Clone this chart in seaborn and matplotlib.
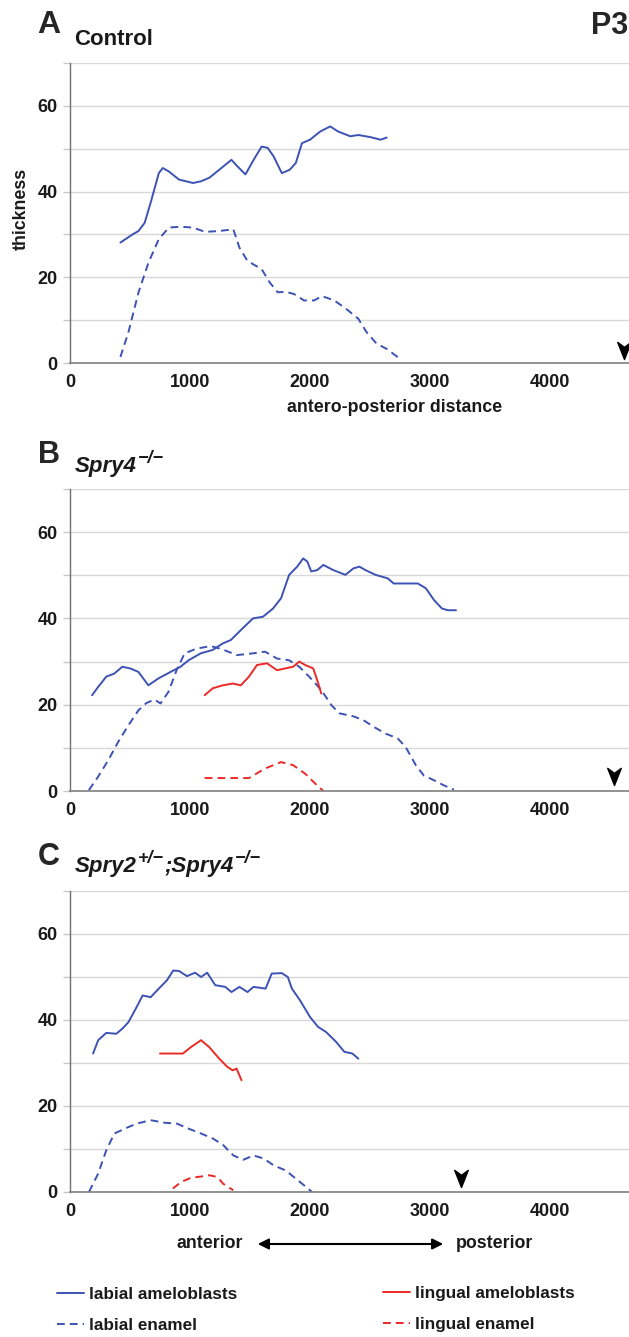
import matplotlib
matplotlib.use('Agg')
import matplotlib.pyplot as plt
from matplotlib.path import Path
from matplotlib.lines import Line2D
from matplotlib.patches import FancyArrowPatch
import pandas as pd
import seaborn as sns

# ---- values: antero-posterior distance vs thickness ----
# panel A, control
a_lab_amel_x = [420, 521, 571, 622, 672, 740, 773, 823, 908, 1025, 1092, 1160, 1244, 1345, 1395,
                1462, 1530, 1597, 1647, 1697, 1765, 1832, 1882, 1933, 2000, 2084, 2168, 2235,
                2336, 2403, 2504, 2588, 2639]
a_lab_amel_y = [28.1, 30.0, 30.8, 32.7, 37.4, 44.3, 45.5, 44.7, 42.8, 42.0, 42.4, 43.2, 45.1, 47.4,
                45.9, 44.0, 47.4, 50.5, 50.2, 48.2, 44.3, 45.1, 46.7, 51.3, 52.1, 54.0, 55.2, 54.0,
                52.9, 53.2, 52.7, 52.1, 52.6]
a_lab_enam_x = [420, 487, 571, 655, 740, 824, 924, 1025, 1126, 1244, 1361, 1412, 1479, 1597, 1664,
                1731, 1798, 1866, 1950, 2034, 2101, 2202, 2303, 2403, 2471, 2555, 2639, 2739]
a_lab_enam_y = [1.4, 7.2, 16.5, 23.5, 28.9, 31.6, 31.8, 31.6, 30.6, 30.8, 31.2, 26.9, 23.8, 21.9,
                18.8, 16.5, 16.6, 16.1, 14.6, 14.6, 15.6, 14.6, 12.6, 10.3, 7.2, 4.5, 3.3, 1.2]

# panel B, Spry4-/-
b_lab_amel_x = [184, 234, 302, 368, 436, 503, 570, 653, 737, 838, 921, 988, 1089, 1189, 1273, 1340,
                1424, 1524, 1608, 1692, 1759, 1826, 1893, 1943, 1977, 2010, 2060, 2111, 2194, 2295,
                2362, 2412, 2462, 2546, 2647, 2697, 2898, 2965, 3032, 3099, 3149, 3216]
b_lab_amel_y = [22.2, 24.1, 26.5, 27.2, 28.8, 28.4, 27.6, 24.5, 26.1, 27.6, 28.8, 30.3, 31.9, 32.7,
                34.2, 35.0, 37.3, 40.0, 40.4, 42.3, 44.7, 50.1, 52.0, 53.9, 53.2, 50.9, 51.2, 52.4,
                51.2, 50.1, 51.6, 52.0, 51.2, 50.1, 49.3, 48.1, 48.1, 47.0, 44.3, 42.3, 41.9, 41.9]
b_lab_enam_x = [157, 234, 318, 402, 486, 570, 637, 704, 754, 821, 888, 955, 1055, 1173, 1273, 1390,
                1524, 1625, 1725, 1826, 1910, 1993, 2094, 2178, 2245, 2362, 2446, 2529, 2630, 2730,
                2797, 2881, 2948, 3032, 3116, 3199]
b_lab_enam_y = [0.2, 3.3, 7.1, 11.4, 15.2, 18.7, 20.4, 21.2, 20.3, 23.0, 28.0, 31.9, 33.0, 33.6,
                32.8, 31.5, 31.9, 32.3, 30.7, 30.3, 28.8, 26.5, 23.4, 19.9, 18.0, 17.3, 16.4, 14.9,
                13.3, 12.2, 10.2, 6.0, 3.6, 2.5, 1.3, 0.3]
b_lin_amel_x = [1122, 1189, 1273, 1357, 1424, 1491, 1558, 1642, 1725, 1792, 1859, 1910, 1960, 2027,
                2060, 2094]
b_lin_amel_y = [22.2, 23.8, 24.5, 24.9, 24.5, 26.5, 29.2, 29.6, 28.0, 28.4, 28.8, 30.0, 29.2, 28.4,
                25.7, 22.6]
b_lin_enam_x = [1122, 1491, 1625, 1759, 1859, 1960, 2044, 2111]
b_lin_enam_y = [3.0, 3.0, 5.2, 6.7, 6.0, 4.0, 1.7, 0.0]

# panel C, Spry2+/-;Spry4-/-
c_lab_amel_x = [192, 235, 302, 386, 437, 487, 555, 605, 672, 740, 807, 860, 908, 975, 1042, 1092,
                1143, 1210, 1294, 1345, 1412, 1479, 1529, 1630, 1681, 1765, 1815, 1849, 1916, 2000,
                2067, 2134, 2218, 2286, 2353, 2403]
c_lab_amel_y = [32.2, 35.3, 37.0, 36.8, 38.0, 39.5, 43.0, 45.7, 45.3, 47.3, 49.2, 51.5, 51.4, 50.2,
                51.0, 50.0, 51.0, 48.1, 47.7, 46.5, 47.7, 46.5, 47.7, 47.3, 50.8, 50.9, 50.0, 47.3,
                44.6, 40.7, 38.4, 37.2, 34.9, 32.6, 32.2, 31.0]
c_lab_enam_x = [158, 235, 302, 370, 454, 555, 672, 790, 891, 991, 1092, 1193, 1277, 1361, 1445,
                1529, 1613, 1697, 1798, 1882, 1966, 2017]
c_lab_enam_y = [0.0, 4.3, 9.7, 13.6, 14.7, 15.9, 16.7, 16.1, 15.9, 14.7, 13.6, 12.4, 10.9, 8.5,
                7.5, 8.5, 7.8, 6.2, 5.0, 3.1, 1.2, 0.0]
c_lin_amel_x = [750, 941, 1008, 1092, 1160, 1244, 1311, 1355, 1388, 1429]
c_lin_amel_y = [32.2, 32.2, 33.7, 35.3, 33.7, 31.0, 29.1, 28.3, 28.7, 26.0]
c_lin_enam_x = [857, 924, 1008, 1092, 1160, 1227, 1277, 1361]
c_lin_enam_y = [0.8, 2.3, 3.3, 3.6, 3.9, 3.5, 1.9, 0.4]

# arrowhead markers (x, y) per panel
arrow_x = [4615, 4530, 3255]
arrow_y = [3.0, 3.4, 3.2]

y_ticks = [0, 20, 40, 60]
x_ticks = [0, 1000, 2000, 3000, 4000]

series_names = ['labial ameloblasts', 'labial enamel', 'lingual ameloblasts', 'lingual enamel']
BLUE = '#3d52b4'
RED = '#ea2a26'
palette = dict(zip(series_names, [BLUE, BLUE, RED, RED]))
dashes = dict(zip(series_names, ['', (4, 2.6), '', (4, 2.6)]))


def to_long(parts):
    frames = []
    for name, xs, ys in parts:
        frames.append(pd.DataFrame({'distance': xs, 'thickness': ys, 'series': name}))
    return pd.concat(frames, ignore_index=True)


sns.set_theme(style='white')
plt.rcParams['font.family'] = ['Liberation Sans', 'DejaVu Sans']

W, H = 629, 1337
fig = plt.figure(figsize=(W / 100, H / 100), dpi=100)
fig.patch.set_facecolor('white')
renderer = fig.canvas.get_renderer()
TXT = '#1a1a1a'


def fx(px):
    return px / W


def fy(py):
    return 1 - py / H


def rich_label(x_px, base_px, pieces):
    # pieces: (text, fontsize, raise_px); laid out left to right
    x = x_px
    for txt, size, rise in pieces:
        t = fig.text(fx(x), fy(base_px - rise), txt, fontsize=size, style='italic',
                     fontweight='bold', va='baseline', color=TXT)
        x += t.get_window_extent(renderer).width + 1


# arrowhead marker shape (pointing down)
arrow_marker = Path([(0, -1), (-0.75, 0.9), (0, 0.35), (0.75, 0.9), (0, -1)],
                    [Path.MOVETO, Path.LINETO, Path.LINETO, Path.LINETO, Path.CLOSEPOLY])

panels = [
    (363, 300, to_long([(series_names[0], a_lab_amel_x, a_lab_amel_y),
                        (series_names[1], a_lab_enam_x, a_lab_enam_y)])),
    (791, 302, to_long([(series_names[0], b_lab_amel_x, b_lab_amel_y),
                        (series_names[1], b_lab_enam_x, b_lab_enam_y),
                        (series_names[2], b_lin_amel_x, b_lin_amel_y),
                        (series_names[3], b_lin_enam_x, b_lin_enam_y)])),
    (1192, 301, to_long([(series_names[0], c_lab_amel_x, c_lab_amel_y),
                         (series_names[1], c_lab_enam_x, c_lab_enam_y),
                         (series_names[2], c_lin_amel_x, c_lin_amel_y),
                         (series_names[3], c_lin_enam_x, c_lin_enam_y)])),
]

axes = []
for i, (bottom_px, height_px, df) in enumerate(panels):
    ax = fig.add_axes([fx(70), fy(bottom_px), 1 - fx(70), height_px / H])
    ax.set_facecolor('white')
    sns.lineplot(data=df, x='distance', y='thickness', hue='series', style='series',
                 palette=palette, dashes=dashes, sort=False, estimator=None,
                 linewidth=1.4, legend=False, ax=ax)
    ax.plot([arrow_x[i]], [arrow_y[i]], marker=arrow_marker, markersize=13,
            color='black', linestyle='none', clip_on=False)
    ax.set_xlim(0, 4658)
    ax.set_ylim(0, 70)
    ax.set_yticks(y_ticks)
    ax.set_yticks([10, 30, 50, 70], minor=True)
    ax.set_xticks(x_ticks)
    ax.grid(True, which='both', axis='y', color='#d8d8d8', linewidth=1.0)
    ax.set_axisbelow(True)
    for side in ['top', 'right']:
        ax.spines[side].set_visible(False)
    ax.spines['left'].set_color('#707070')
    ax.spines['bottom'].set_color('#808080')
    ax.spines['left'].set_linewidth(1.0)
    ax.spines['bottom'].set_linewidth(1.2)
    ax.tick_params(axis='y', which='both', length=5, width=1, color='#c8c8c8',
                   direction='out', pad=4, left=True)
    ax.tick_params(axis='x', length=0, pad=8)
    for lab in ax.get_xticklabels() + ax.get_yticklabels():
        lab.set_fontsize(13)
        lab.set_fontweight('bold')
        lab.set_color(TXT)
    ax.set_xlabel('')
    ax.set_ylabel('')
    axes.append(ax)

# axis labels only on panel A
axes[0].set_xlabel('antero-posterior distance', fontsize=12.8, fontweight='bold', color=TXT)
axes[0].xaxis.set_label_coords(0.581, -0.147)
axes[0].xaxis.label.set_va('center')
axes[0].set_ylabel('thickness', fontsize=12.8, fontweight='bold', color=TXT)
axes[0].yaxis.set_label_coords(-0.088, 0.513)
axes[0].yaxis.label.set_va('center')

# panel letters and genotype labels
fig.text(fx(37), fy(33), 'A', fontsize=23, fontweight='bold', va='baseline')
fig.text(fx(74), fy(45), 'Control', fontsize=16, fontweight='bold', va='baseline', color=TXT)
fig.text(fx(628), fy(34), 'P3', fontsize=22, fontweight='bold', va='baseline', ha='right')
fig.text(fx(38), fy(463), 'B', fontsize=22, fontweight='bold', va='baseline')
rich_label(75, 472, [('Spry4', 16, 0), ('\u2212/\u2212', 13, 9)])
fig.text(fx(38), fy(865), 'C', fontsize=22, fontweight='bold', va='baseline')
rich_label(75, 872, [('Spry2', 16, 0), ('+/\u2212', 13, 9), (';Spry4', 16, 0),
                     ('\u2212/\u2212', 13, 9)])

# anterior <-> posterior
fig.text(fx(243), fy(1244), 'anterior', fontsize=12.8, fontweight='bold', ha='right', va='center',
         color=TXT)
fig.text(fx(456), fy(1244), 'posterior', fontsize=12.8, fontweight='bold', ha='left', va='center',
         color=TXT)
fig.add_artist(FancyArrowPatch(
    (fx(255), fy(1244)), (fx(446), fy(1244)), transform=fig.transFigure,
    arrowstyle='<|-|>', mutation_scale=16, color='black', linewidth=1.5))

# legends
left_handles = [Line2D([], [], color=BLUE, lw=1.4),
                Line2D([], [], color=BLUE, lw=1.4, dashes=(4, 2.6))]
right_handles = [Line2D([], [], color=RED, lw=1.4),
                 Line2D([], [], color=RED, lw=1.4, dashes=(4, 2.6))]
leg_kw = dict(frameon=False, loc='upper left', borderpad=0, borderaxespad=0,
              handlelength=1.6, handletextpad=0.25, labelspacing=0.95,
              prop={'size': 12.3, 'weight': 'bold'})
leg1 = fig.legend(left_handles, series_names[:2], bbox_to_anchor=(fx(57), fy(1287)), **leg_kw)
leg2 = fig.legend(right_handles, series_names[2:], bbox_to_anchor=(fx(383), fy(1286)), **leg_kw)
for leg in (leg1, leg2):
    for t in leg.get_texts():
        t.set_color(TXT)

fig.savefig('out.png', dpi=100, facecolor='white')
